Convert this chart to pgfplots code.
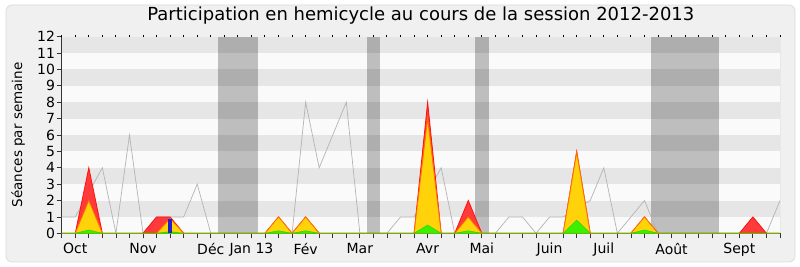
\documentclass[border=0pt]{standalone}
\usepackage{fontspec}
\setmainfont{DejaVu Sans}
\usepackage{pgfplots}
\usepackage{pgfplotstable}
\pgfplotsset{compat=1.18}

\definecolor{frameBg}{HTML}{F0F0F0}
\definecolor{frameLine}{HTML}{DCDCDC}
\definecolor{plotBg}{HTML}{FAFAFA}
\definecolor{stripe}{HTML}{E6E6E6}
\definecolor{txt}{HTML}{333333}
\definecolor{totalLine}{HTML}{B4B4B4}
\definecolor{presFill}{HTML}{FF3A3A}
\definecolor{presLine}{HTML}{FF1010}
\definecolor{intFill}{HTML}{FFD20A}
\definecolor{intLine}{HTML}{FF7000}
\definecolor{shortFill}{HTML}{3CF000}
\definecolor{shortLine}{HTML}{30D800}
\definecolor{quest}{HTML}{2020D0}

% seances tenues en hemicycle, par semaine
\pgfplotstableread{
w n
0 1
1 1
3 4
4 0
5 6
6 0
7 1
8 1
9 1
10 3
11 0
12 0
13 0
14 0
15 0
16 0
17 0
18 8
19 4
21 8
22 0
23 0
24 0
25 1
26 1
28 4
29 0
30 0
31 0
32 0
33 1
34 1
35 0
36 1
37 1
39 2
40 4
41 0
43 2
44 0
45 0
46 0
47 0
48 0
49 0
50 0
51 0
52 0
53 2
}\total

% participation du depute, par semaine
\pgfplotstableread{
w pres interv courtes
0 0 0 0
1 0 0 0
2 4 2 0.2
3 0 0 0
4 0 0 0
5 0 0 0
6 0 0 0
7 1 0 0
8 1 0.9 0.1
9 0 0 0
10 0 0 0
11 0 0 0
12 0 0 0
13 0 0 0
14 0 0 0
15 0 0 0
16 1 1 0.15
17 0 0 0
18 1 1 0.15
19 0 0 0
20 0 0 0
21 0 0 0
22 0 0 0
23 0 0 0
24 0 0 0
25 0 0 0
26 0 0 0
27 8 7 0.5
28 0 0 0
29 0 0 0
30 2 1 0.15
31 0 0 0
32 0 0 0
33 0 0 0
34 0 0 0
35 0 0 0
36 0 0 0
37 0 0 0
38 5 4.95 0.8
39 0 0 0
40 0 0 0
41 0 0 0
42 0 0 0
43 1 1 0.2
44 0 0 0
45 0 0 0
46 0 0 0
47 0 0 0
48 0 0 0
49 0 0 0
50 0 0 0
51 1 0 0
52 0 0 0
53 0 0 0
}\participation

\begin{document}
\begin{tikzpicture}[font=\color{txt}]
\path[use as bounding box] (-61.7pt,-33.7pt) rectangle (738.3pt,233.3pt);
\filldraw[fill=frameBg, draw=frameLine, line width=0.8pt, rounded corners=6pt]
  (-55.7pt,-28.7pt) rectangle (733.3pt,228.3pt);

\begin{axis}[
  at={(0pt,0pt)}, anchor=south west,
  width=718.3pt, height=196.6pt, scale only axis,
  xmin=0, xmax=53, ymin=0, ymax=12,
  no markers,
  axis background/.style={fill=plotBg},
  axis x line*=bottom, axis y line*=left,
  axis line style={-, draw=txt, line width=0.8pt},
  tick align=outside,
  major tick length=5pt, minor tick length=5pt,
  every tick/.style={draw=txt, line width=0.8pt},
  xtick={1,6,11,14,18,22,27,31,36,40,45,50},
  xticklabels={Oct,Nov,Déc,Jan 13,Fév,Mar,Avr,Mai,Juin,Juil,Août,Sept},
  minor xtick={0,...,53},
  ytick={0,...,12},
  /pgf/number format/assume math mode=true,
  ticklabel style={font=\fontsize{14}{14}\selectfont},
  xticklabel style={yshift=-1pt},
  yticklabel style={inner sep=1.5pt},
  ylabel={Séances par semaine},
  every axis y label/.style={at={(axis description cs:-0.0608,0.5)}, rotate=90,
    anchor=center, font=\fontsize{13.5}{13.5}\selectfont},
  title={Participation en hemicycle au cours de la session 2012-2013},
  title style={at={(axis description cs:0.5,1)}, anchor=base, yshift=10pt,
    font=\fontsize{18}{18}\selectfont},
]
% bandes horizontales du fond
\fill[stripe] (axis cs:0,1) rectangle (axis cs:53,2);
\fill[stripe] (axis cs:0,3) rectangle (axis cs:53,4);
\fill[stripe] (axis cs:0,5) rectangle (axis cs:53,6);
\fill[stripe] (axis cs:0,7) rectangle (axis cs:53,8);
\fill[stripe] (axis cs:0,9) rectangle (axis cs:53,10);
\fill[stripe] (axis cs:0,11) rectangle (axis cs:53,12);
% vacances parlementaires
\fill[black, fill opacity=0.24] (axis cs:11.5,0) rectangle (axis cs:14.5,12);
\fill[black, fill opacity=0.24] (axis cs:22.5,0) rectangle (axis cs:23.5,12);
\fill[black, fill opacity=0.24] (axis cs:30.5,0) rectangle (axis cs:31.5,12);
\fill[black, fill opacity=0.24] (axis cs:43.5,0) rectangle (axis cs:48.5,12);
\draw[totalLine, line width=0.8pt] (rel axis cs:1,0) -- (rel axis cs:1,1);

% seances totales
\addplot[totalLine, line width=0.7pt] table[x=w, y=n] {\total};
% presences, interventions, interventions courtes
\addplot[fill=presFill, draw=presLine, line width=0.8pt] table[x=w, y=pres] {\participation} \closedcycle;
\addplot[fill=intFill, draw=intLine, line width=0.8pt] table[x=w, y=interv] {\participation} \closedcycle;
\addplot[fill=shortFill, draw=shortLine, line width=0.6pt] table[x=w, y=courtes] {\participation} \closedcycle;
% questions
\addplot[ybar, bar width=4pt, fill=quest, draw=none] coordinates {(8,0.85)};
\end{axis}

% petites graduations du bord superieur
\begin{axis}[
  at={(0pt,0pt)}, anchor=south west,
  width=718.3pt, height=196.6pt, scale only axis,
  xmin=0, xmax=53, ymin=0, ymax=12,
  axis x line*=top, axis y line=none,
  axis line style={draw=none},
  tick align=outside, major tick length=1.5pt,
  every tick/.style={draw=black, line width=1pt},
  xtick={0,...,53}, xticklabels={},
]
\end{axis}
\end{tikzpicture}
\end{document}
